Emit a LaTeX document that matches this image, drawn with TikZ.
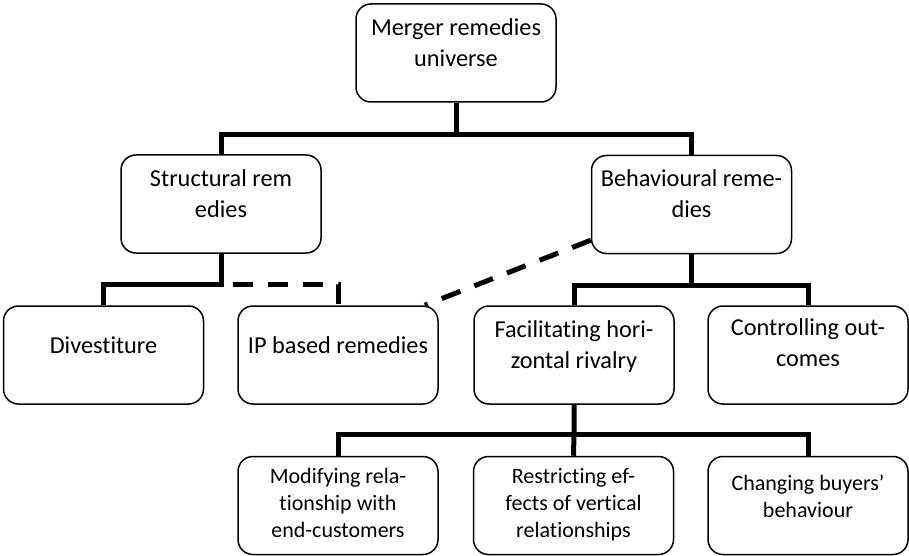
\documentclass[tikz,border=0pt]{standalone}
\usepackage{fontspec}
\setmainfont{Carlito}[Ligatures={NoCommon,NoRare,NoContextual}, Contextuals=NoAlternate]
\usetikzlibrary{calc}
\tikzset{
  box/.style={draw, line width=1.5pt, rounded corners=15pt, minimum width=200pt, minimum height=98pt, inner sep=0pt},
  conn/.style={line width=5pt},
  dconn/.style={line width=5pt, dash pattern=on 20pt off 15pt},
  bigtxt/.style={anchor=base, inner sep=0pt, font=\fontsize{24.3}{31}\selectfont},
  smalltxt/.style={anchor=base, inner sep=0pt, font=\fontsize{22}{27}\selectfont},
}
\newcommand{\boxlines}[1]{\parbox[t]{200pt}{\centering #1}}
\begin{document}
\begin{tikzpicture}[x=1pt,y=-1pt]
\useasboundingbox (0,0) rectangle (909,556);
% boxes
\node[box] (top) at (456,53) {};
\node[bigtxt] (ttop) at (456,36) {\boxlines{Merger remedies\\universe}};
\node[box] (struct) at (221,204) {};
\node[bigtxt] (tstruct) at (221,186) {\boxlines{Structural rem\\edies}};
\node[box] (beh) at (691.5,204.5) {};
\node[bigtxt] (tbeh) at (691.5,186) {\boxlines{Behavioural reme-\\dies}};
\node[box] (div) at (103.5,355) {};
\node[bigtxt] (tdiv) at (103.5,353) {\boxlines{Divestiture}};
\node[box] (ip) at (338,355) {};
\node[bigtxt] (tip) at (338,353) {\boxlines{IP based remedies}};
\node[box] (fac) at (574,355) {};
\node[bigtxt] (tfac) at (574,337) {\boxlines{Facilitating hori-\\zontal rivalry}};
\node[box] (ctrl) at (808,355) {};
\node[bigtxt] (tctrl) at (808,335) {\boxlines{Controlling out-\\comes}};
\node[box] (mod) at (338,505.5) {};
\node[smalltxt] (tmod) at (338,483) {\boxlines{Modifying rela-\\tionship with\\end-customers}};
\node[box] (res) at (573.5,505.5) {};
\node[smalltxt] (tres) at (573.5,483) {\boxlines{Restricting ef-\\fects of vertical\\relationships}};
\node[box] (chg) at (808,505.5) {};
\node[smalltxt] (tchg) at (808,490) {\boxlines{Changing buyers’\\behaviour}};
% junctions
\coordinate (j0) at (456,135);
\coordinate (j1) at (221,284);
\coordinate (j2) at (691.5,285);
\coordinate (j3) at (574,434);
% connectors
\draw[conn] (top.south) -- (j0);
\draw[conn] (struct.north) |- (j0) -| (beh.north);
\draw[conn] (struct.south) -- (j1) -| (div.north);
\draw[dconn, dash phase=23pt] (j1) -| (ip.north);
\draw[conn] (beh.south) -- (j2);
\draw[conn] (fac.north) |- (j2) -| (ctrl.north);
\draw[conn] (fac.south) -- (j3) -- (res.north);
\draw[conn] (mod.north) |- (j3) -| (chg.north);
\draw[dconn] ($(beh.south west)+(0,-14)$) -- ($(ip.north east)+(-14,0)$);
\end{tikzpicture}
\end{document}
